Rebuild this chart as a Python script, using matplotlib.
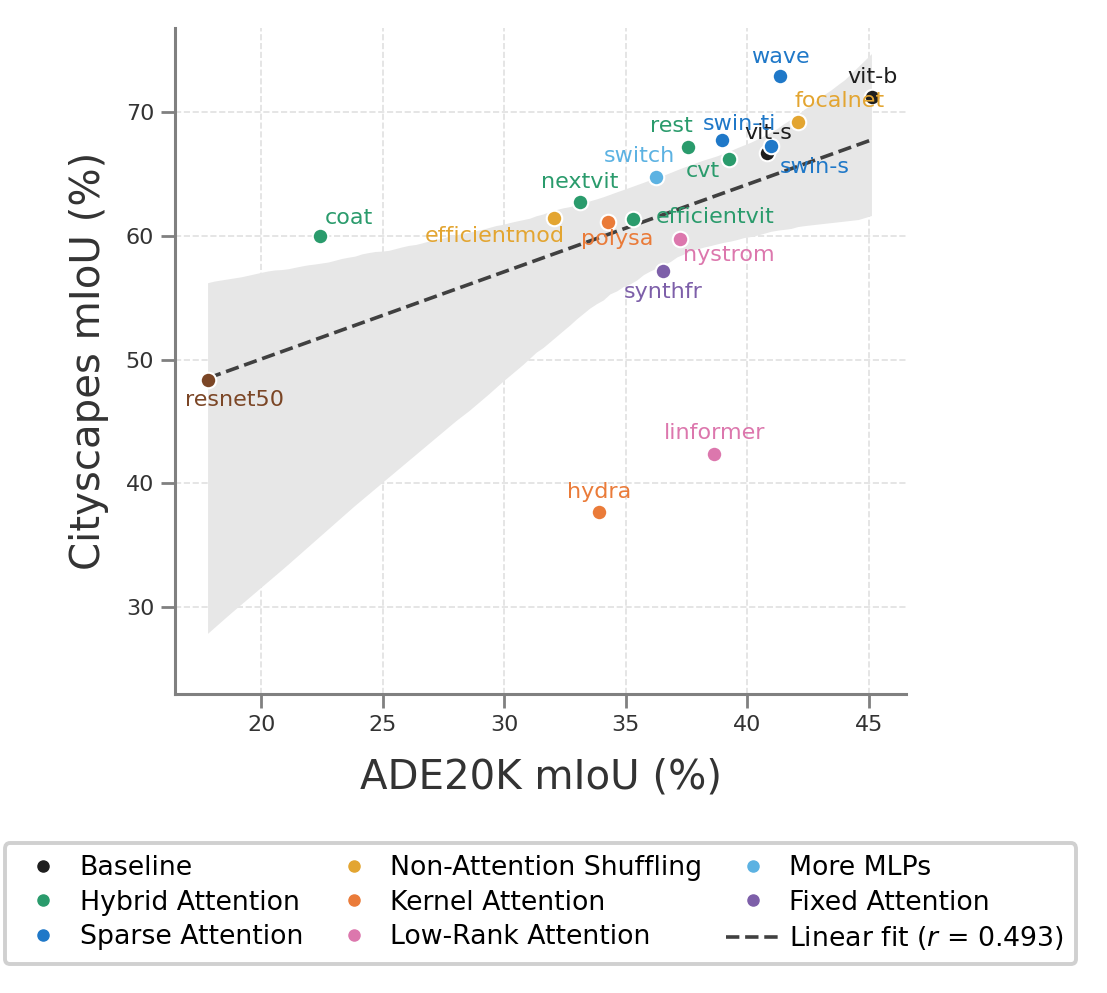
import numpy as np
import matplotlib
matplotlib.use("Agg")
import matplotlib.pyplot as plt
from matplotlib.lines import Line2D
import seaborn as sns

# Data
models = ["vit-b", "vit-s", "coat", "cvt", "efficientvit", "nextvit", "rest",
          "swin-ti", "swin-s", "wave", "focalnet", "efficientmod", "polysa",
          "hydra", "linformer", "nystrom", "switch", "synthfr", "resnet50"]
ade = [45.12, 40.81, 22.43, 39.24, 35.30, 33.12, 37.56,
       38.96, 40.97, 41.34, 42.08, 32.05, 34.27,
       33.90, 38.63, 37.23, 36.24, 36.53, 17.82]
city = [71.21, 66.69, 60.00, 66.21, 61.37, 62.74, 67.18,
        67.74, 67.26, 72.90, 69.19, 61.45, 61.13,
        37.66, 42.34, 59.76, 64.76, 57.18, 48.31]
groups = ["Baseline", "Baseline", "Hybrid Attention", "Hybrid Attention",
          "Hybrid Attention", "Hybrid Attention", "Hybrid Attention",
          "Sparse Attention", "Sparse Attention", "Sparse Attention",
          "Non-Attention Shuffling", "Non-Attention Shuffling",
          "Kernel Attention", "Kernel Attention",
          "Low-Rank Attention", "Low-Rank Attention",
          "More MLPs", "Fixed Attention", "CNN"]
legend_groups = ["Baseline", "Hybrid Attention", "Sparse Attention",
                 "Non-Attention Shuffling", "Kernel Attention", "Low-Rank Attention",
                 "More MLPs", "Fixed Attention"]
r_text = "0.493"

colors = {
    "Baseline": "#1e1e1e",
    "Hybrid Attention": "#2a9b6c",
    "Sparse Attention": "#1f78c8",
    "Non-Attention Shuffling": "#e3a531",
    "Kernel Attention": "#ea7b39",
    "Low-Rank Attention": "#dc77ad",
    "More MLPs": "#5cb2e2",
    "Fixed Attention": "#7d5fa9",
    "CNN": "#7b4626",
}

# label offsets in pixels (dx, dy)
offsets = {
    "vit-b": (1, 20), "vit-s": (1, 20), "coat": (29, 18), "cvt": (-26, -12),
    "efficientvit": (82, 2), "nextvit": (0, 20), "rest": (-17, 21),
    "swin-ti": (17, 16), "swin-s": (44, -21), "wave": (0, 19),
    "focalnet": (42, 21), "efficientmod": (-59, -18), "polysa": (9, -17),
    "hydra": (0, 20), "linformer": (0, 21), "nystrom": (49, -16),
    "switch": (-17, 21), "synthfr": (0, -21), "resnet50": (26, -20),
}

fig = plt.figure(figsize=(11.07, 9.93), dpi=100)
ax = fig.add_axes([175 / 1107, 1 - 694 / 993, (906 - 175) / 1107, (694 - 28) / 993])

# regression with bootstrapped band
sns.regplot(x=np.array(ade), y=np.array(city), ax=ax, scatter=False, ci=95,
            seed=0, color="#404040",
            line_kws=dict(ls="--", lw=2.6, zorder=3))
for coll in ax.collections:
    coll.set_facecolor("#e7e7e7")
    coll.set_alpha(1)
    coll.set_zorder(1)

order = ["Baseline"] + [g for g in colors if g != "Baseline"]
for g in order:
    idx = [i for i, gg in enumerate(groups) if gg == g]
    ax.scatter([ade[i] for i in idx], [city[i] for i in idx], s=125,
               color=colors[g], edgecolor="white", linewidths=1.5, zorder=4)

for i, m in enumerate(models):
    ax.annotate(m, (ade[i], city[i]), xytext=offsets[m], textcoords="offset pixels",
                ha="center", va="center", fontsize=16, color=colors[groups[i]],
                zorder=5)

ax.set_xlim(16.46, 46.52)
ax.set_ylim(22.97, 76.8)
ax.set_xticks([20, 25, 30, 35, 40, 45])
ax.set_yticks([30, 40, 50, 60, 70])
ax.grid(True, ls="--", color="#e0e0e0", lw=1.2, zorder=0)
ax.set_axisbelow(True)
for s in ["top", "right"]:
    ax.spines[s].set_visible(False)
for s in ["left", "bottom"]:
    ax.spines[s].set_color("#808080")
    ax.spines[s].set_linewidth(2.2)
ax.tick_params(axis="both", length=10, width=2, color="#808080", labelsize=16,
               labelcolor="#333333", pad=5)
ax.set_xlabel("ADE20K mIoU (%)", fontsize=29, color="#333333", labelpad=16)
ax.set_ylabel("Cityscapes mIoU (%)", fontsize=29, color="#333333", labelpad=12)

handles = [Line2D([], [], marker="o", ls="none", markersize=8, color=colors[g])
           for g in legend_groups]
handles.append(Line2D([], [], ls="--", lw=2.6, color="#404040"))
labels = legend_groups + [r"Linear fit ($r$ = " + r_text + ")"]
leg = ax.legend(handles, labels, loc="upper center", bbox_to_anchor=(0.5, -0.224),
                ncol=3, fontsize=19.3, frameon=True, fancybox=True, edgecolor="#d0d0d0",
                framealpha=1, handlelength=2.0, handletextpad=0.35, columnspacing=0.9,
                labelspacing=0.32, borderpad=0.45, borderaxespad=0)
leg.get_frame().set_linewidth(2.8)

fig.savefig("out.png", dpi=100)
